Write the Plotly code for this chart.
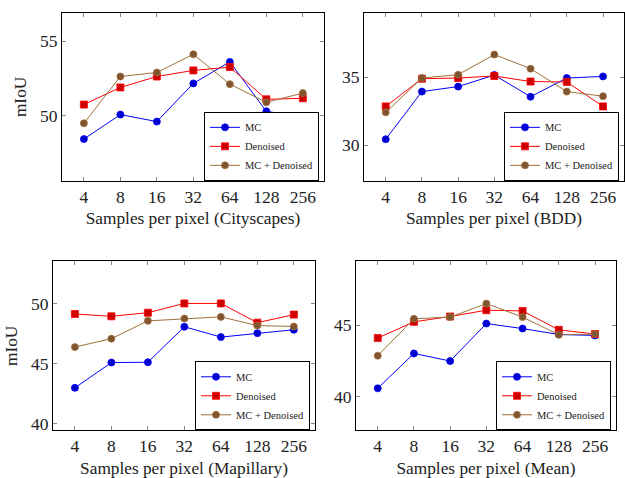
import plotly.graph_objects as go

spp = ["4", "8", "16", "32", "64", "128", "256"]

city_mc = [48.45, 50.09, 49.62, 52.18, 53.62, 50.31, 49.91]
city_dn = [50.76, 51.91, 52.64, 53.05, 53.27, 51.11, 51.18]
city_both = [49.51, 52.64, 52.91, 54.13, 52.13, 50.91, 51.53]

bdd_mc = [30.44, 33.95, 34.32, 35.17, 33.57, 34.95, 35.07]
bdd_dn = [32.86, 34.90, 34.95, 35.10, 34.69, 34.66, 32.86]
bdd_both = [32.42, 34.95, 35.20, 36.68, 35.64, 33.95, 33.61]

map_mc = [42.98, 45.08, 45.11, 48.06, 47.20, 47.53, 47.81]
map_dn = [49.12, 48.93, 49.23, 50.00, 50.00, 48.40, 49.07]
map_both = [46.37, 47.07, 48.55, 48.74, 48.88, 48.16, 48.08]

mean_mc = [40.60, 43.03, 42.50, 45.11, 44.76, 44.35, 44.28]
mean_dn = [44.10, 45.23, 45.60, 46.04, 45.99, 44.67, 44.38]
mean_both = [42.87, 45.44, 45.56, 46.50, 45.56, 44.33, 44.38]

series_names = ["MC", "Denoised", "MC + Denoised"]
panel_titles = ["Samples per pixel (Cityscapes)", "Samples per pixel (BDD)",
                "Samples per pixel (Mapillary)", "Samples per pixel (Mean)"]
panel_data = [
    (city_mc, city_dn, city_both),
    (bdd_mc, bdd_dn, bdd_both),
    (map_mc, map_dn, map_both),
    (mean_mc, mean_dn, mean_both),
]
y_ranges = [[45.65, 56.9], [27.37, 39.75], [39.45, 53.5], [37.68, 49.44]]
y_ticks = [[50, 55], [30, 35], [40, 45, 50], [40, 45]]

W, H = 625, 478
# panel boxes in pixels (left, right, top, bottom)
boxes = [(62, 324, 13, 182), (364, 624, 13, 182),
         (53, 315, 263, 433), (356, 616, 263, 433)]

line_cols = ["#0000FF", "#FF0000", "#A0703C"]
fill_cols = ["#0000CC", "#CC0000", "#7F5530"]
symbols = ["circle", "square", "circle"]

FONT = "Liberation Serif, Times New Roman, serif"
fig = go.Figure()

for i, (data, title) in enumerate(zip(panel_data, panel_titles)):
    ax = "" if i == 0 else str(i + 1)
    leg = "legend" if i == 0 else f"legend{i + 1}"
    for s, vals in enumerate(data):
        fig.add_trace(go.Scatter(
            x=spp, y=vals, mode="lines+markers", name=series_names[s],
            xaxis="x" + ax, yaxis="y" + ax, legend=leg,
            line=dict(color=line_cols[s], width=1),
            marker=dict(symbol=symbols[s], size=7, color=fill_cols[s],
                        line=dict(color=line_cols[s], width=0.8)),
        ))
    l, r, t, b = boxes[i]
    xd = [l / W, r / W]
    yd = [1 - b / H, 1 - t / H]
    common = dict(showline=True, linecolor="black", linewidth=1, mirror="allticks",
                  ticks="inside", ticklen=4, tickcolor="#888888", showgrid=False,
                  zeroline=False, tickfont=dict(family=FONT, size=17.5, color="#222"))
    fig.layout["xaxis" + ax] = dict(
        domain=xd, anchor="y" + ax, type="category", categoryorder="array",
        categoryarray=spp, range=[-0.6, 6.58],
        title=dict(text=title, font=dict(family=FONT, size=17.3, color="#222"), standoff=6),
        **common)
    yax = dict(domain=yd, anchor="x" + ax, range=y_ranges[i], tickvals=y_ticks[i], **common)
    if i in (0, 2):
        yax["title"] = dict(text="mIoU", font=dict(family=FONT, size=17.3, color="#222"), standoff=8)
    fig.layout["yaxis" + ax] = yax
    fig.layout[leg] = dict(
        x=(r - 5) / W, y=1 - b / H, xanchor="right", yanchor="bottom",
        bgcolor="white", bordercolor="black", borderwidth=1,
        font=dict(family=FONT, size=10.5, color="#222"),
        tracegroupgap=0, itemwidth=30,
    )

fig.update_layout(
    width=W, height=H, autosize=False,
    margin=dict(l=0, r=0, t=0, b=0),
    plot_bgcolor="white", paper_bgcolor="white",
    showlegend=True,
)

fig.write_html("out.html", config={"displayModeBar": False},
               post_script="document.body.style.margin='0';document.body.style.padding='0';")
